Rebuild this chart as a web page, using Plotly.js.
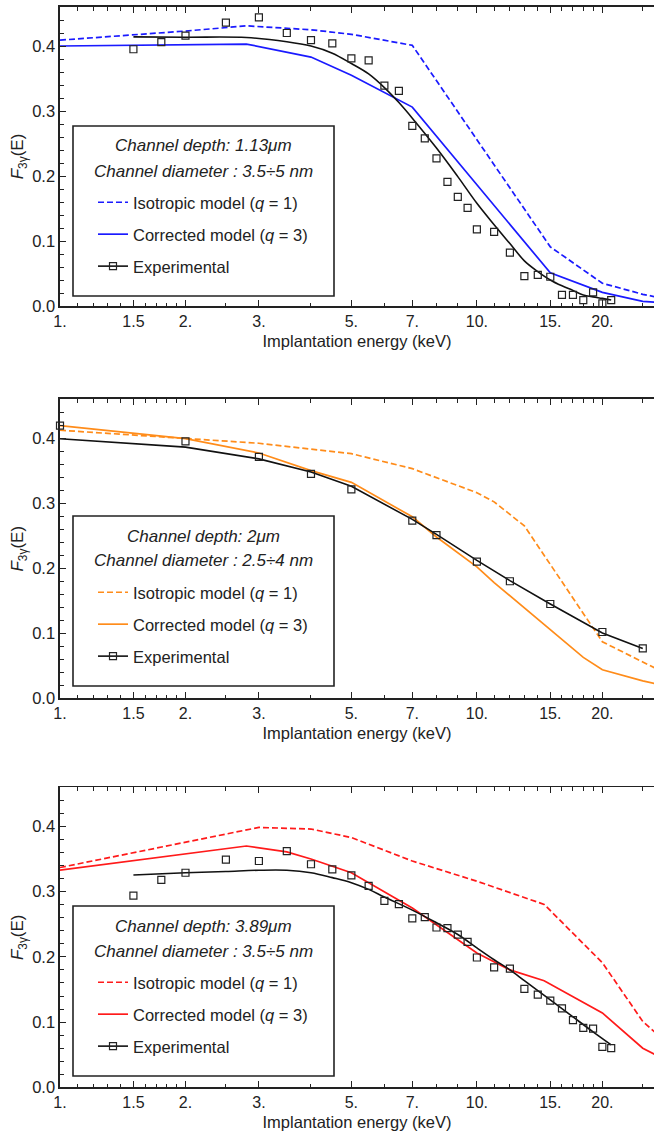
<!DOCTYPE html>
<html>
<head>
<meta charset="utf-8">
<script src="https://cdn.plot.ly/plotly-3.0.1.min.js"></script>
<style>html,body{margin:0;padding:0;background:#fff;}#chart{width:654px;height:1134px;}</style>
</head>
<body>
<div id="chart"></div>
<script>
// ---------------- DATA ----------------
// Panel 1: channel depth 1.13 um (blue)
const p1IsoE = [1, 2, 2.8, 4, 5, 7, 15, 20, 25, 30];
const p1IsoF = [0.409, 0.423, 0.431, 0.425, 0.418, 0.401, 0.091, 0.035, 0.018, 0.008];
const p1CorE = [1, 2.8, 4, 5, 7, 15, 20, 25, 30];
const p1CorF = [0.400, 0.403, 0.383, 0.355, 0.306, 0.051, 0.021, 0.007, 0.004];
const p1FitE = [1.5, 2, 2.8, 3.5, 4, 4.5, 5, 5.5, 6, 6.5, 7, 8, 9, 10, 11, 12, 13, 14, 15, 16, 17, 18, 19, 20, 21];
const p1FitF = [0.414, 0.4135, 0.413, 0.4066, 0.400, 0.389, 0.373, 0.357, 0.336, 0.313, 0.289, 0.243, 0.199, 0.158, 0.125, 0.096, 0.0695, 0.053, 0.040, 0.031, 0.024, 0.017, 0.014, 0.0117, 0.0092];
const p1ExpE = [1.5, 1.75, 2, 2.5, 3, 3.5, 4, 4.5, 5, 5.5, 6, 6.5, 7, 7.5, 8, 8.5, 9, 9.5, 10, 11, 12, 13, 14, 15, 16, 17, 18, 19, 20, 21];
const p1ExpF = [0.395, 0.406, 0.416, 0.436, 0.444, 0.420, 0.409, 0.404, 0.381, 0.378, 0.339, 0.331, 0.277, 0.258, 0.227, 0.191, 0.168, 0.151, 0.118, 0.114, 0.082, 0.046, 0.048, 0.045, 0.017, 0.017, 0.009, 0.021, 0.004, 0.009];

// Panel 2: channel depth 2 um (orange)
const p2IsoE = [1, 2, 3, 5, 7, 10, 11, 13, 20, 25, 30];
const p2IsoF = [0.412, 0.399, 0.392, 0.376, 0.353, 0.316, 0.302, 0.265, 0.087, 0.056, 0.031];
const p2CorE = [1, 2, 3, 4, 5, 7, 8, 10, 11, 15, 18, 20, 25, 30];
const p2CorF = [0.419, 0.399, 0.377, 0.350, 0.332, 0.279, 0.248, 0.202, 0.178, 0.106, 0.063, 0.044, 0.027, 0.015];
const p2FitE = [1, 2, 3, 4, 5, 7, 8, 10, 12, 15, 20, 25];
const p2FitF = [0.399, 0.386, 0.368, 0.348, 0.326, 0.275, 0.252, 0.212, 0.181, 0.145, 0.1005, 0.0766];
const p2ExpE = [1, 2, 3, 4, 5, 7, 8, 10, 12, 15, 20, 25];
const p2ExpF = [0.419, 0.395, 0.371, 0.345, 0.321, 0.273, 0.251, 0.210, 0.180, 0.145, 0.102, 0.077];

// Panel 3: channel depth 3.89 um (red)
const p3IsoE = [1, 3, 4, 5, 7, 10, 14.5, 20, 25, 30];
const p3IsoF = [0.337, 0.3985, 0.396, 0.383, 0.347, 0.316, 0.2805, 0.191, 0.101, 0.056];
const p3CorE = [1, 2.8, 3.5, 4, 5, 7, 10, 12, 14.5, 20, 25, 30];
const p3CorF = [0.333, 0.370, 0.361, 0.350, 0.329, 0.275, 0.206, 0.180, 0.1635, 0.114, 0.060, 0.034];
const p3FitE = [1.5, 2, 2.5, 3, 3.5, 4, 4.5, 5, 5.5, 6, 7, 8, 9, 10, 11, 12, 13, 15, 17, 19, 21];
const p3FitF = [0.3256, 0.329, 0.331, 0.3328, 0.3328, 0.329, 0.3215, 0.3138, 0.3035, 0.2917, 0.2717, 0.2523, 0.2343, 0.2138, 0.1956, 0.180, 0.1635, 0.134, 0.108, 0.085, 0.065];
const p3ExpE = [1.5, 1.75, 2, 2.5, 3, 3.5, 4, 4.5, 5, 5.5, 6, 6.5, 7, 7.5, 8, 8.5, 9, 9.5, 10, 11, 12, 13, 14, 15, 16, 17, 18, 19, 20, 21];
const p3ExpF = [0.294, 0.318, 0.329, 0.349, 0.347, 0.362, 0.342, 0.334, 0.325, 0.309, 0.286, 0.281, 0.259, 0.261, 0.245, 0.244, 0.234, 0.223, 0.199, 0.184, 0.182, 0.151, 0.142, 0.133, 0.121, 0.103, 0.091, 0.090, 0.062, 0.060];

// Tick labels
const xTickVals = [1, 1.5, 2, 3, 5, 7, 10, 15, 20];
const xTickText = ['1.', '1.5', '2.', '3.', '5.', '7.', '10.', '15.', '20.'];
const xMinorVals = [1.1, 1.2, 1.3, 1.4, 1.6, 1.7, 1.8, 1.9, 2.5, 4, 6, 8, 9, 11, 12, 13, 14, 16, 17, 18, 19, 25];
const yTickVals = [0, 0.1, 0.2, 0.3, 0.4];
const yTickText = ['0.0', '0.1', '0.2', '0.3', '0.4'];

const depthLabels = ['Channel depth: 1.13μm', 'Channel depth: 2μm', 'Channel depth: 3.89μm'];
const diamLabels = ['Channel diameter : 3.5÷5 nm', 'Channel diameter : 2.5÷4 nm', 'Channel diameter : 3.5÷5 nm'];
const isoName = 'Isotropic model (<i>q</i> = 1)';
const corName = 'Corrected model (<i>q</i> = 3)';
const expName = 'Experimental';
const xTitle = 'Implantation energy (keV)';
const yTitle = '<i>F</i><sub>3γ</sub>(E)';

// ---------------- LAYOUT HELPERS ----------------
const W = 654, H = 1134, ML = 60;
const FONT = 'Liberation Sans, Arial, sans-serif';
const px = v => (v - ML) / (W - ML);
const py = v => 1 - v / H;

const panels = [
  {iso:[p1IsoE,p1IsoF], cor:[p1CorE,p1CorF], fit:[p1FitE,p1FitF], exp:[p1ExpE,p1ExpF], color:'#1a1aff', top:7, bottom:306, box:126, fitShape:'spline'},
  {iso:[p2IsoE,p2IsoF], cor:[p2CorE,p2CorF], fit:[p2FitE,p2FitF], exp:[p2ExpE,p2ExpF], color:'#ff8c1a', top:399, bottom:698.4, box:516, fitShape:'linear'},
  {iso:[p3IsoE,p3IsoF], cor:[p3CorE,p3CorF], fit:[p3FitE,p3FitF], exp:[p3ExpE,p3ExpF], color:'#ff1a1a', top:787.3, bottom:1087.3, box:906, fitShape:'spline'}
];

const traces = [];
const layout = {
  width: W, height: H,
  margin: {l: ML, r: 0, t: 0, b: 0},
  paper_bgcolor: '#fff', plot_bgcolor: '#fff',
  font: {family: FONT, color: '#222', size: 16},
  annotations: [], shapes: []
};

panels.forEach((p, i) => {
  const s = i === 0 ? '' : String(i + 1);
  const xa = 'x' + s, ya = 'y' + s;
  const lg = i === 0 ? 'legend' : 'legend' + (i + 1);
  traces.push({x:p.iso[0], y:p.iso[1], xaxis:xa, yaxis:ya, mode:'lines', name:isoName,
    line:{color:p.color, width:1.7, dash:'6px,3px'}, legend:lg, legendgroup:'iso'+i});
  traces.push({x:p.cor[0], y:p.cor[1], xaxis:xa, yaxis:ya, mode:'lines', name:corName,
    line:{color:p.color, width:1.7}, legend:lg, legendgroup:'cor'+i});
  traces.push({x:p.fit[0], y:p.fit[1], xaxis:xa, yaxis:ya, mode:'lines', name:expName,
    line:{color:'#111', width:1.6, shape:p.fitShape}, showlegend:false, legendgroup:'exp'+i});
  traces.push({x:p.exp[0], y:p.exp[1], xaxis:xa, yaxis:ya, mode:'markers', name:expName,
    marker:{symbol:'square-open', size:7, color:'#222', line:{width:1.2}}, cliponaxis:false,
    showlegend:false, legendgroup:'exp'+i});
  // legend entry for experimental (line + square)
  traces.push({x:[null], y:[null], xaxis:xa, yaxis:ya, mode:'lines+markers', name:expName,
    line:{color:'#111', width:1.6}, marker:{symbol:'square-open', size:7, color:'#222', line:{width:1.2}},
    legend:lg, legendgroup:'exp'+i, hoverinfo:'skip'});

  layout['xaxis' + s] = {
    type:'log', range:[0, Math.log10(26.6)], anchor:ya, domain:[0, 1],
    tickmode:'array', tickvals:xTickVals, ticktext:xTickText,
    ticks:'inside', ticklen:6, tickwidth:1, tickcolor:'#222',
    minor:{tickmode:'array', tickvals:xMinorVals, ticks:'inside', ticklen:3.5, tickwidth:1, tickcolor:'#222', showgrid:false},
    showline:true, linecolor:'#222', linewidth:1.6, mirror:'ticks',
    showgrid:false, zeroline:false, automargin:false,
    tickfont:{size:16, family:FONT, color:'#222'},
    title:{text:xTitle, font:{size:16.5, family:FONT, color:'#222'}, standoff:6}
  };
  layout['yaxis' + s] = {
    range:[0, 0.46], anchor:xa, domain:[py(p.bottom), py(p.top)],
    tickmode:'array', tickvals:yTickVals, ticktext:yTickText,
    ticks:'inside', ticklen:6, tickwidth:1, tickcolor:'#222',
    minor:{tickmode:'linear', tick0:0, dtick:0.02, ticks:'inside', ticklen:3.5, tickwidth:1, tickcolor:'#222', showgrid:false},
    showline:true, linecolor:'#222', linewidth:1.6, mirror:false,
    showgrid:false, zeroline:false, automargin:false,
    tickfont:{size:16.5, family:FONT, color:'#222'},
    title:{text:yTitle, font:{size:17, family:FONT, color:'#222'}, standoff:4}
  };
  layout[lg] = {
    x: px(93), y: py(p.box + 59), xanchor:'left', yanchor:'top', xref:'paper', yref:'paper',
    bgcolor:'rgba(0,0,0,0)', borderwidth:0,
    font:{size:16.5, family:FONT, color:'#222'},
    traceorder:'grouped', tracegroupgap:7.5, itemwidth:30
  };
  layout.shapes.push({type:'rect', xref:'paper', yref:'paper',
    x0:px(73), x1:px(334), y0:py(p.box + 170), y1:py(p.box),
    line:{color:'#222', width:1.6}, fillcolor:'rgba(255,255,255,1)', layer:'below'});
  layout.annotations.push({xref:'paper', yref:'paper', x:px(203.5), y:py(p.box + 20), xanchor:'center', yanchor:'middle',
    text:'<i>' + depthLabels[i] + '</i>', showarrow:false, font:{size:17, family:FONT, color:'#222'}});
  layout.annotations.push({xref:'paper', yref:'paper', x:px(203.5), y:py(p.box + 45), xanchor:'center', yanchor:'middle',
    text:'<i>' + diamLabels[i] + '</i>', showarrow:false, font:{size:17, family:FONT, color:'#222'}});
});

Plotly.newPlot('chart', traces, layout, {staticPlot:true, displayModeBar:false});
</script>
</body>
</html>
